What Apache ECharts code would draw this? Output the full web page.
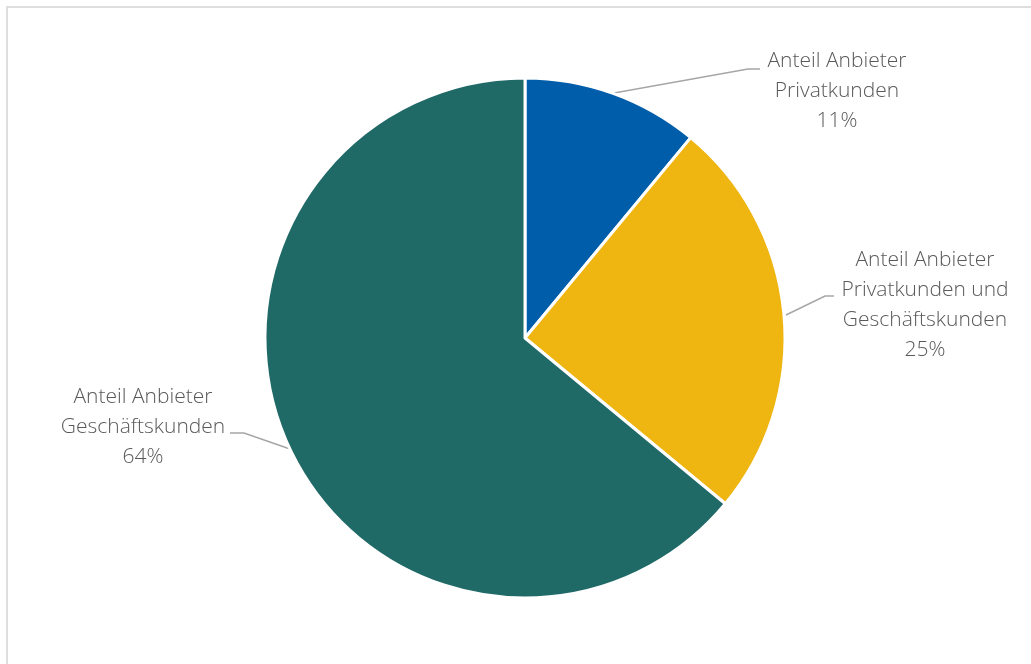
<!DOCTYPE html>
<html>
<head>
<meta charset="utf-8">
<script src="https://cdn.jsdelivr.net/npm/echarts@6/dist/echarts.min.js"></script>
<style>
html,body{margin:0;padding:0;background:#fff;overflow:hidden;}
#frame{position:absolute;left:6px;top:6px;width:1100px;height:720px;border:2px solid #dedede;box-sizing:border-box;}
#chart{position:absolute;left:0;top:0;width:1031px;height:664px;}
</style>
</head>
<body>
<div id="frame"></div>
<div id="chart"></div>
<script>
const categories = ['Anteil Anbieter\nPrivatkunden', 'Anteil Anbieter\nPrivatkunden und\nGeschäftskunden', 'Anteil Anbieter\nGeschäftskunden'];
const shares = [11, 25, 64];
const colors = ['#005DAA', '#EFB510', '#1F6967'];

// label placement (pixel layout, Excel-style)
const labelPos = [
  {x: 837, y: 91, line: [[614, 93], [748, 69], [760, 69]]},
  {x: 925, y: 305, line: [[786, 315], [825, 296], [834, 296]]},
  {x: 143, y: 427, line: [[290, 449], [244, 433], [230, 433]]}
];

const chart = echarts.init(document.getElementById('chart'));
chart.setOption({
  animation: false,
  series: [{
    type: 'pie',
    center: [525, 338],
    radius: [0, 260],
    startAngle: 90,
    clockwise: true,
    data: categories.map((c, i) => ({name: c, value: shares[i], itemStyle: {color: colors[i]}})),
    itemStyle: {borderColor: '#fff', borderWidth: 3},
    label: {
      show: true,
      formatter: p => p.name + '\n' + p.value + '%',
      fontFamily: '"Open Sans", sans-serif',
      fontWeight: 300,
      fontSize: 21,
      lineHeight: 30,
      color: '#595959',
      align: 'center'
    },
    labelLine: {show: true, lineStyle: {color: '#a6a6a6', width: 1.5}},
    labelLayout: function (params) {
      const p = labelPos[params.dataIndex];
      return {
        x: p.x,
        y: p.y,
        align: 'center',
        verticalAlign: 'middle',
        labelLinePoints: p.line
      };
    }
  }]
});
</script>
</body>
</html>
